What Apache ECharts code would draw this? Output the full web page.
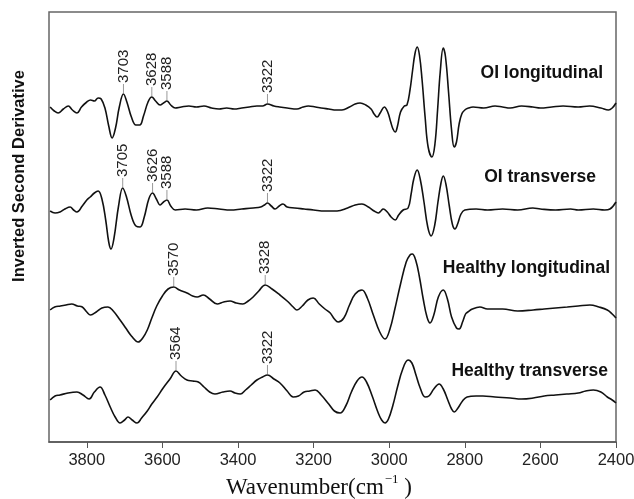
<!DOCTYPE html>
<html lang="en" style="height: 100%">
<head>
    <meta charset="utf-8">
    <title>Inverted second derivative spectra</title>
    <script src="https://cdn.jsdelivr.net/npm/echarts@6/dist/echarts.min.js"></script>
</head>
<body style="height: 100%; margin: 0; background: #fff">
    <div id="main" style="width: 634px; height: 499px"></div>
    <script type="text/javascript">
        // wavenumbers (cm-1) and offset second-derivative values for each spectrum
        var wnOiLong = [3897,3886,3876,3862,3849,3838,3826,3814,3800,3790,3780,3770,3762,3752,3742,3733,3724,3714,3703,3694,3682,3670,3660,3650,3638,3628,3618,3606,3597,3588,3578,3566,3550,3530,3510,3490,3470,3450,3430,3410,3390,3370,3350,3335,3322,3305,3290,3270,3244,3228,3214,3195,3180,3160,3140,3125,3105,3090,3077,3062,3048,3040,3032,3024,3013,3004,2996,2990,2984,2978,2970,2960,2953,2945,2938,2932,2926,2920,2913,2905,2897,2887,2879,2872,2865,2857,2851,2843,2835,2828,2822,2815,2808,2800,2790,2778,2750,2720,2700,2680,2650,2620,2600,2570,2540,2500,2470,2440,2420,2410,2400];
        var yOiLong  = [335,331,329,333,336,332,329,335,340,342,341,344,343,334,316,304,314,335,348,340,325,317,317,326,340,345,341,337,339,341,337,334,335,336,335,336,334,333,334,333,334,335,336,336,338,336,335,334,333,335,336,335,334,333,332,332,335,338,339,337,333,328,325,329,335,330,320,313,310,316,330,336,337,352,372,388,395,387,362,325,295,285,298,332,370,394,385,350,312,295,300,318,328,332,334,335,334,336,335,334,336,335,334,335,336,335,336,334,332,334,339];

        var wnOiTrans = [3897,3884,3871,3858,3844,3835,3826,3812,3800,3791,3780,3770,3760,3750,3742,3736,3728,3716,3705,3695,3682,3670,3659,3648,3636,3626,3616,3606,3597,3588,3578,3566,3540,3510,3480,3450,3420,3390,3360,3340,3330,3322,3312,3302,3291,3281,3270,3250,3225,3200,3170,3138,3110,3090,3072,3055,3040,3029,3022,3016,3005,2995,2984,2975,2963,2950,2942,2935,2926,2918,2908,2898,2889,2880,2871,2863,2857,2850,2841,2833,2826,2819,2810,2800,2770,2740,2700,2660,2620,2600,2560,2520,2500,2460,2430,2416,2400];
        var yOiTrans  = [231,229,230,233,235,232,230,236,242,245,249,251,243,222,200,193,204,236,254,245,226,216,215,225,243,249,243,237,240,242,236,232,233,232,234,233,232,233,234,235,237,239,236,233,236,238,235,234,233,232,231,231,234,237,238,235,231,229,231,233,230,225,222,227,232,234,248,263,272,263,240,215,206,216,240,259,266,258,236,218,213,218,228,232,233,232,233,232,234,233,232,233,232,233,232,233,240];

        var wnHLong = [3897,3885,3870,3855,3840,3825,3812,3800,3790,3775,3760,3744,3730,3712,3697,3682,3664,3652,3640,3628,3615,3600,3585,3570,3555,3535,3520,3508,3492,3475,3455,3438,3421,3405,3387,3373,3360,3345,3328,3310,3289,3270,3254,3244,3230,3215,3201,3185,3170,3156,3145,3135,3120,3105,3090,3072,3058,3042,3025,3011,2998,2985,2970,2955,2945,2939,2930,2920,2910,2900,2892,2882,2870,2857,2846,2835,2822,2815,2806,2798,2792,2780,2760,2740,2700,2660,2619,2590,2560,2529,2500,2469,2445,2423,2410,2400];
        var yHLong  = [132,135,136,137,138,136,135,130,127,130,134,135,131,122,114,106,100,104,112,124,136,146,153,155,152,149,146,145,147,143,138,140,141,139,138,141,145,151,157,153,147,141,135,132,136,142,144,138,133,129,123,120,124,137,148,152,144,127,110,103,113,133,158,180,187,188,182,165,143,125,119,127,145,152,143,125,114,113,120,128,130,133,135,133,133,131,132,133,134,135,136,137,135,132,128,124];

        var wnHTrans = [3897,3884,3871,3850,3826,3810,3794,3780,3765,3752,3738,3725,3712,3700,3691,3680,3667,3655,3640,3628,3614,3598,3580,3564,3550,3535,3520,3505,3490,3475,3461,3440,3421,3408,3394,3380,3365,3350,3335,3322,3305,3289,3270,3254,3240,3225,3210,3196,3180,3160,3145,3130,3115,3100,3085,3072,3060,3045,3030,3020,3011,3002,2990,2978,2965,2950,2940,2930,2918,2905,2895,2882,2868,2857,2845,2835,2828,2818,2806,2794,2770,2752,2720,2680,2650,2619,2590,2560,2530,2500,2480,2460,2440,2423,2410,2400];
        var yHTrans  = [42,46,47,49,50,47,43,50,55,47,35,25,19,22,25,22,19,24,31,38,45,54,63,71,66,62,61,60,55,50,48,50,51,49,48,52,57,62,65,67,63,59,51,45,46,50,51,52,47,38,31,29,36,50,61,65,60,46,30,22,19,23,37,55,72,82,79,68,54,45,46,53,58,53,42,33,30,34,41,45,46,46,45,44,43,44,46,47,48,49,51,52,50,45,42,39];

        // annotated peak positions
        var peaksOiLong  = [3703, 3628, 3588, 3322];
        var peaksOiTrans = [3705, 3626, 3588, 3322];
        var peaksHLong   = [3570, 3328];
        var peaksHTrans  = [3564, 3322];

        var seriesNames = ['OI longitudinal', 'OI transverse', 'Healthy longitudinal', 'Healthy transverse'];
        var xTicks = [3800, 3600, 3400, 3200, 3000, 2800, 2600, 2400];

        var curves = [
            { wn: wnOiLong,  y: yOiLong,  peaks: peaksOiLong },
            { wn: wnOiTrans, y: yOiTrans, peaks: peaksOiTrans },
            { wn: wnHLong,   y: yHLong,   peaks: peaksHLong },
            { wn: wnHTrans,  y: yHTrans,  peaks: peaksHTrans }
        ];

        function pairs(wn, y) {
            return wn.map(function (w, i) { return [w, y[i]]; });
        }

        // peak markers: value taken from the curve point with the same wavenumber
        var peakData = [];
        curves.forEach(function (c) {
            c.peaks.forEach(function (p) {
                var i = c.wn.indexOf(p);
                peakData.push([p, c.y[i], p]);
            });
        });

        var myChart = echarts.init(document.getElementById('main'));

        var series = curves.map(function (c, k) {
            return {
                name: seriesNames[k],
                type: 'line',
                data: pairs(c.wn, c.y),
                smooth: 0.4,
                showSymbol: false,
                lineStyle: { color: '#111', width: 1.6 },
                z: 3
            };
        });

        series.push({
            name: 'peaks',
            type: 'custom',
            data: peakData,
            encode: { x: 0, y: 1 },
            z: 4,
            renderItem: function (params, api) {
                var pt = api.coord([api.value(0), api.value(1)]);
                return {
                    type: 'group',
                    children: [
                        {
                            type: 'line',
                            shape: { x1: pt[0], y1: pt[1] - 1, x2: pt[0], y2: pt[1] - 10 },
                            style: { stroke: '#999', lineWidth: 1 }
                        },
                        {
                            type: 'text',
                            x: pt[0],
                            y: pt[1] - 11,
                            rotation: Math.PI / 2,
                            style: {
                                text: String(api.value(2)),
                                font: '15px Arial',
                                fill: '#222',
                                align: 'left',
                                verticalAlign: 'middle'
                            }
                        }
                    ]
                };
            }
        });

        // curve names on the right, placed beside each trace
        var nameSpots = [[603, 73], [596, 177], [610, 268], [608, 371]];
        var graphics = seriesNames.map(function (n, k) {
            return {
                type: 'text',
                x: nameSpots[k][0],
                y: nameSpots[k][1],
                style: {
                    text: n,
                    font: 'bold 17.5px Arial',
                    fill: '#111',
                    align: 'right',
                    verticalAlign: 'middle'
                }
            };
        });

        graphics.push({
            type: 'text',
            x: 19,
            y: 176,
            rotation: Math.PI / 2,
            style: {
                text: 'Inverted Second Derivative',
                font: 'bold 16.5px Arial',
                fill: '#111',
                align: 'center',
                verticalAlign: 'middle'
            }
        });

        graphics.push({
            type: 'text',
            x: 319,
            y: 486,
            style: {
                text: '{a|Wavenumber(cm}{s|\u22121}{a| )}',
                align: 'center',
                verticalAlign: 'middle',
                rich: {
                    a: { font: '23px "Liberation Serif"', fill: '#111', lineHeight: 26, verticalAlign: 'bottom' },
                    s: { font: '13px "Liberation Serif"', fill: '#111', lineHeight: 26, verticalAlign: 'top', padding: [0, 0, 0, 1] }
                }
            }
        });

        var option = {
            animation: false,
            grid: {
                left: 49, right: 18, top: 12, bottom: 57,
                containLabel: false,
                outerBoundsMode: 'none',
                show: true,
                borderColor: '#666',
                borderWidth: 1.5
            },
            xAxis: {
                type: 'value',
                inverse: true,
                min: 2400,
                max: 3900,
                interval: 200,
                splitLine: { show: false },
                axisLine: { show: true, lineStyle: { color: '#555', width: 1.5 } },
                axisTick: { show: true, length: 6, lineStyle: { color: '#555' } },
                axisLabel: {
                    margin: 10,
                    fontFamily: 'Arial',
                    fontSize: 16.5,
                    color: '#222',
                    showMaxLabel: false,
                    formatter: function (v) { return xTicks.indexOf(v) >= 0 ? String(v) : ''; }
                }
            },
            yAxis: {
                type: 'value',
                min: 0,
                max: 430,
                show: false
            },
            graphic: graphics,
            series: series
        };

        myChart.setOption(option);
    </script>
</body>
</html>
